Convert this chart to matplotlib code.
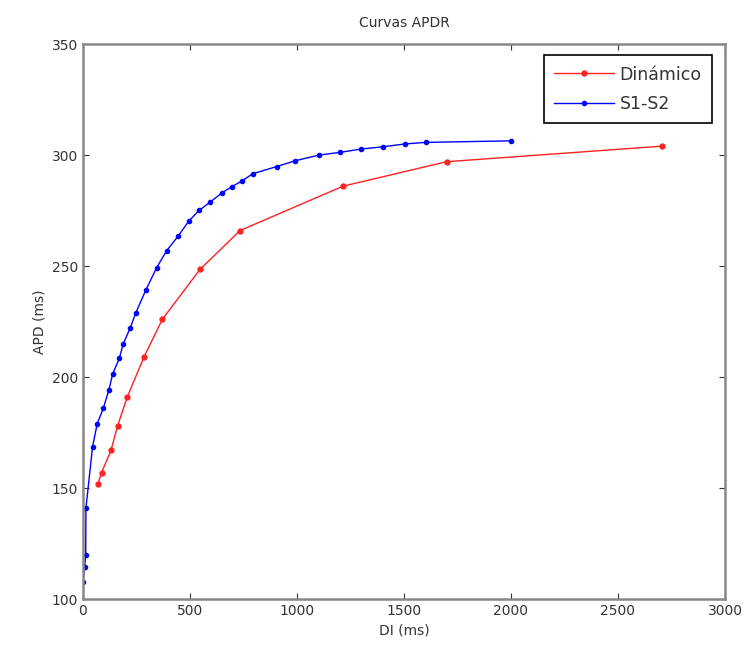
# APDR curves: dynamic vs S1-S2 protocol
import matplotlib
matplotlib.use("Agg")
import matplotlib.pyplot as plt

# Dinámico protocol
di_dyn = [70, 87, 131, 162, 207, 285, 371, 547, 734, 1216, 1699, 2704]
apd_dyn = [152, 157, 167, 178, 191, 209, 226, 248.5, 266, 286, 297, 304]

# S1-S2 protocol
di_s1s2 = [1, 8, 13, 14, 45, 67, 95, 121, 139, 170, 188, 220, 246, 294, 344,
           391, 445, 495, 543, 593, 650, 695, 744, 794, 905, 991, 1103, 1201,
           1299, 1400, 1505, 1601, 2000]
apd_s1s2 = [107.8, 114.6, 119.8, 140.9, 168.6, 179.1, 185.9, 194.1, 201.4,
            208.4, 214.9, 221.9, 228.7, 239.2, 249.2, 256.9, 263.5, 270.3,
            275.1, 278.7, 283, 285.7, 288.4, 291.6, 294.8, 297.4, 300, 301.2,
            302.7, 303.7, 305, 305.7, 306.4]

fig = plt.figure(figsize=(7.47, 6.57), dpi=100)
ax = fig.add_axes([0.111, 0.088, 0.8595, 0.845])

ax.plot(di_dyn, apd_dyn, color="#ff2020", marker=".", markersize=7,
        linewidth=1, label="Dinámico")
ax.plot(di_s1s2, apd_s1s2, color="#0000ff", marker=".", markersize=6,
        linewidth=1, label="S1-S2")

ax.set_xlim(0, 3000)
ax.set_ylim(100, 350)
ax.set_xticks(range(0, 3001, 500))
ax.set_yticks(range(100, 351, 50))

ax.tick_params(direction="in", top=True, right=True, length=4,
               labelsize=10, colors="#333333")
for s in ax.spines.values():
    s.set_color("#888888")
    s.set_linewidth(1.8)

ax.set_title("Curvas APDR", fontsize=10, color="#333333", pad=12)
ax.set_xlabel("DI (ms)", fontsize=10, color="#333333")
ax.set_ylabel("APD (ms)", fontsize=10, color="#333333")

leg = ax.legend(loc="upper right", bbox_to_anchor=(0.98, 0.98),
                borderaxespad=0, handlelength=3.45, handletextpad=0.3,
                labelspacing=0.65, borderpad=0.6, fontsize=12.5,
                fancybox=False, edgecolor="black", framealpha=1)
leg.get_frame().set_linewidth(1.2)
for t in leg.get_texts():
    t.set_color("#333333")

fig.savefig("out.png", dpi=100)
